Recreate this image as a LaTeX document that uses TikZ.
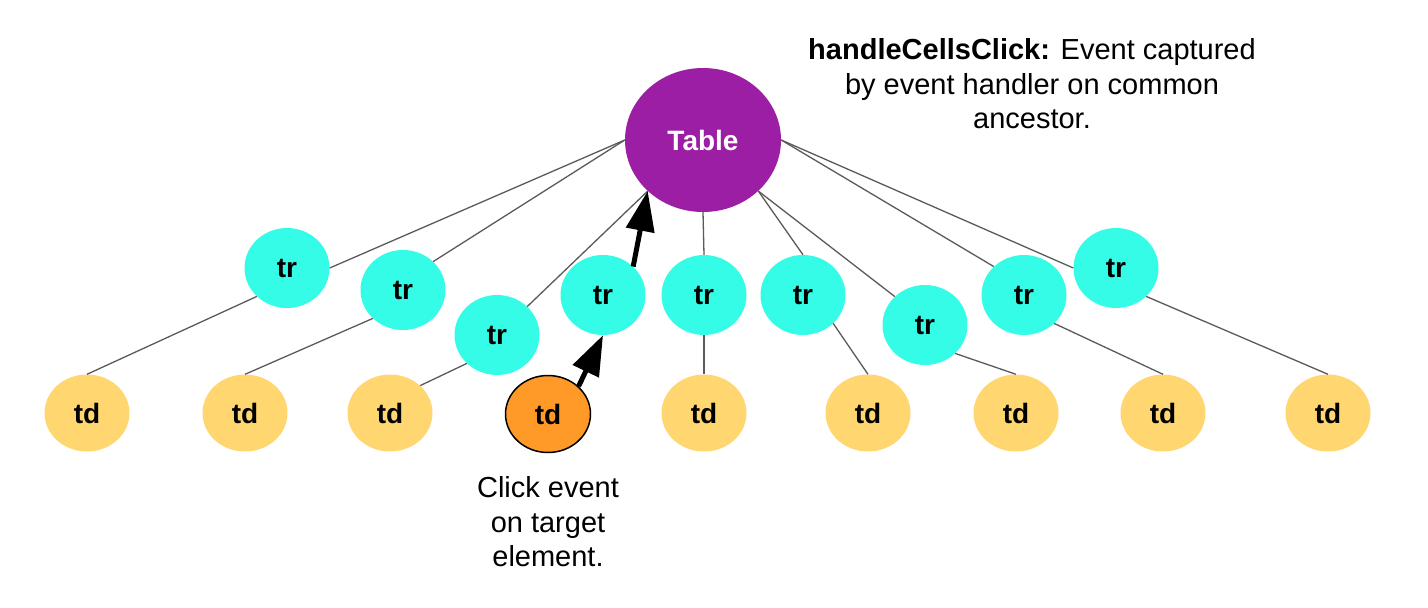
\documentclass[tikz,border=0pt]{standalone}
\usepackage{fontspec}
\setmainfont{Liberation Sans}
\usetikzlibrary{shapes.geometric, arrows.meta}
\definecolor{tablepurple}{RGB}{156,30,165}
\definecolor{trcyan}{RGB}{52,252,230}
\definecolor{tdyellow}{RGB}{255,214,112}
\definecolor{tdorange}{RGB}{255,154,41}
\definecolor{linkgray}{RGB}{90,90,90}

\begin{document}
\begin{tikzpicture}[x=1pt, y=-1pt,
    tablenode/.style={ellipse, fill=tablepurple, text=white, minimum width=156pt, minimum height=144pt, inner sep=0pt, font=\fontsize{28}{28}\selectfont\bfseries},
    trnode/.style={ellipse, fill=trcyan, minimum width=85pt, minimum height=80pt, inner sep=0pt, font=\fontsize{28}{28}\selectfont\bfseries},
    tdnode/.style={ellipse, fill=tdyellow, minimum width=85pt, minimum height=77pt, inner sep=0pt, font=\fontsize{28}{28}\selectfont\bfseries},
    link/.style={draw=linkgray, line width=1.3pt},
    click/.style={line width=5pt, -{Triangle[length=40pt, width=28pt]}},
    note/.style={align=center, font=\fontsize{29}{34.5}\selectfont}]

    \useasboundingbox (0,0) rectangle (1428,608);

    \node[tablenode] (table) at (703,140) {Table};

    \node[trnode] (tr1) at (287,268) {tr};
    \node[trnode] (tr2) at (403,290) {tr};
    \node[trnode] (tr3) at (497,335) {tr};
    \node[trnode] (tr4) at (603,295) {tr};
    \node[trnode] (tr5) at (704,295) {tr};
    \node[trnode] (tr6) at (803,295) {tr};
    \node[trnode] (tr7) at (925,325) {tr};
    \node[trnode] (tr8) at (1024,295) {tr};
    \node[trnode] (tr9) at (1116,268) {tr};

    \node[tdnode] (td1) at (87,413) {td};
    \node[tdnode] (td2) at (245,413) {td};
    \node[tdnode] (td3) at (390,413) {td};
    \node[tdnode, fill=tdorange, draw=black, line width=1.5pt] (td4) at (548,414) {td};
    \node[tdnode] (td5) at (704,413) {td};
    \node[tdnode] (td6) at (868,413) {td};
    \node[tdnode] (td7) at (1016,413) {td};
    \node[tdnode] (td8) at (1163,413) {td};
    \node[tdnode] (td9) at (1328,413) {td};

    % table to rows
    \draw[link] (table.west) -- (tr1.east);
    \draw[link] (table.west) -- (tr2.north east);
    \draw[link] (table.south west) -- (tr3.north east);
    \draw[link] (table.south) -- (tr5.north);
    \draw[link] (table.south east) -- (tr6.north);
    \draw[link] (table.south east) -- (tr7.north west);
    \draw[link] (table.east) -- (tr8.north west);
    \draw[link] (table.east) -- (tr9.west);

    % rows to cells
    \draw[link] (tr1.south west) -- (td1.north);
    \draw[link] (tr2.south west) -- (td2.north);
    \draw[link] (tr3.south west) -- (td3.north east);
    \draw[link] (tr5.south) -- (td5.north);
    \draw[link] (tr6.south east) -- (td6.north);
    \draw[link] (tr7.south east) -- (td7.north);
    \draw[link] (tr8.south east) -- (td8.north);
    \draw[link] (tr9.south east) -- (td9.north);

    % bubbling up
    \draw[click] (td4.north east) -- (tr4.south);
    \draw[click] (tr4.north east) -- (table.south west);

    \node[note] (handler) at (1032,84) {\textbf{handleCellsClick:} Event captured\\by event handler on common\\ancestor.};
    \node[note] (target) at (548,522) {Click event\\on target\\element.};
\end{tikzpicture}
\end{document}
